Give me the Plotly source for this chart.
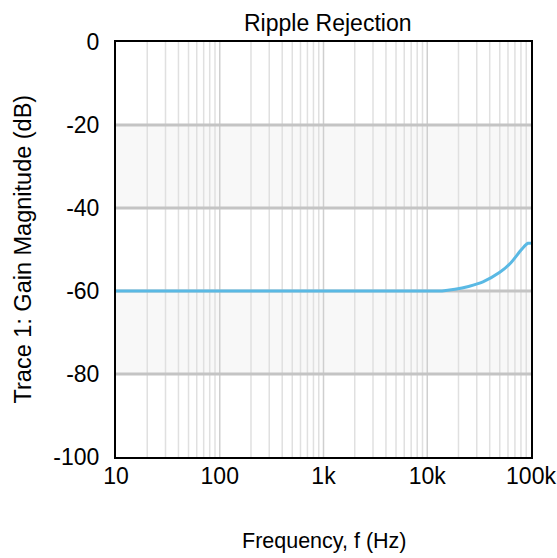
import plotly.graph_objects as go

# Ripple rejection measurement (gain magnitude vs frequency)
freq_hz = [10, 100, 1000, 10000, 13900, 18500, 25000, 34400, 50000, 64000, 78000, 88000, 93500, 100000]
gain_db = [-60, -60, -60, -60, -60, -59.6, -58.9, -57.8, -55.5, -53.2, -50.5, -49.0, -48.5, -48.5]

x_tick_vals = [10, 100, 1000, 10000, 100000]
x_tick_text = ["10", "100", "1k", "10k", "100k"]
y_tick_vals = [0, -20, -40, -60, -80, -100]
y_tick_text = ["0", "-20", "-40", "-60", "-80", "-100"]
shaded_bands = [(-40, -20), (-80, -60)]

FONT = "Liberation Sans, Arial, sans-serif"

fig = go.Figure()

fig.add_trace(go.Scatter(
    x=freq_hz, y=gain_db, mode="lines",
    line=dict(color="#5ab9e4", width=3, shape="spline", smoothing=0.6),
    showlegend=False, hoverinfo="skip",
))

shapes = []
for lo, hi in shaded_bands:
    shapes.append(dict(type="rect", xref="paper", yref="y", x0=0, x1=1, y0=lo, y1=hi,
                       fillcolor="#f8f8f8", line=dict(width=0), layer="below"))

# vertical grid: decade lines and the 2..9 lines inside each decade
for dec in [10, 100, 1000, 10000]:
    for m in range(1, 10):
        f = dec * m
        if f <= 10:
            continue
        shapes.append(dict(type="line", xref="x", yref="paper", x0=f, x1=f, y0=0, y1=1,
                           line=dict(color="#cfcfcf" if m == 1 else "#e0e0e0", width=1.5),
                           layer="below"))
for v in y_tick_vals[1:-1]:
    shapes.append(dict(type="line", xref="paper", yref="y", x0=0, x1=1, y0=v, y1=v,
                       line=dict(color="#c4c4c4", width=3), layer="below"))

annotations = [
    dict(text="Ripple Rejection", xref="paper", yref="paper", x=0.51, y=1.0,
         xanchor="center", yanchor="bottom", yshift=4, showarrow=False,
         font=dict(size=23, family=FONT, color="black")),
    dict(text="Frequency, f (Hz)", xref="paper", yref="paper", x=0.5, y=0,
         xanchor="center", yanchor="middle", yshift=-84, showarrow=False,
         font=dict(size=21.5, family=FONT, color="black")),
    dict(text="Trace 1: Gain Magnitude (dB)", xref="paper", yref="paper", x=0, y=0.5,
         xanchor="center", yanchor="middle", xshift=-94, textangle=-90, showarrow=False,
         font=dict(size=23.5, family=FONT, color="black")),
]

fig.update_layout(
    width=557, height=558,
    margin=dict(l=116, r=26, t=42, b=101, autoexpand=False),
    paper_bgcolor="white", plot_bgcolor="white",
    font=dict(family=FONT, color="black"),
    shapes=shapes,
    annotations=annotations,
    xaxis=dict(
        type="log", range=[1, 5], tickvals=x_tick_vals, ticktext=x_tick_text,
        tickfont=dict(size=23), ticks="", ticklabelstandoff=-3,
        showgrid=False, zeroline=False, automargin=False,
        showline=True, linecolor="black", linewidth=2, mirror=True,
    ),
    yaxis=dict(
        range=[-100, 0], tickvals=y_tick_vals, ticktext=y_tick_text, tickfont=dict(size=23),
        ticks="outside", ticklen=10, tickcolor="rgba(0,0,0,0)",
        showgrid=False, zeroline=False, automargin=False,
        showline=True, linecolor="black", linewidth=2, mirror=True,
    ),
)

fig.write_html("out.html")
